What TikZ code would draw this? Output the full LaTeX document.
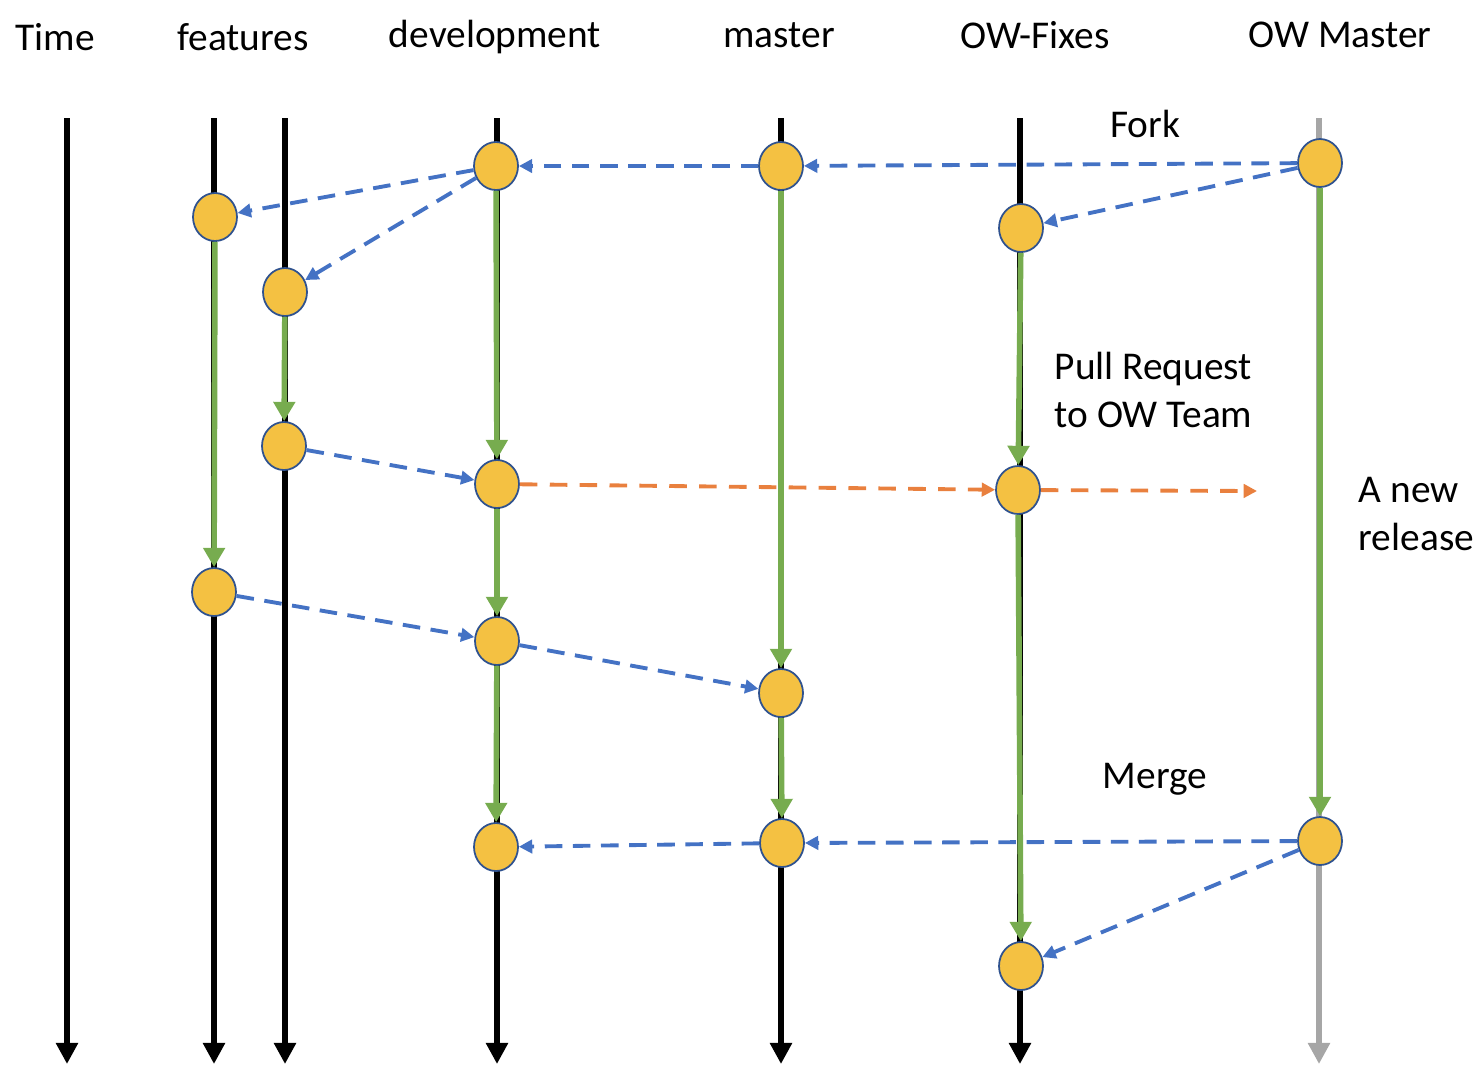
\documentclass[tikz,border=0pt]{standalone}
\usepackage{fontspec}
\setmainfont{Carlito}
\usetikzlibrary{arrows.meta,shapes.geometric,backgrounds}
\definecolor{cgreen}{HTML}{77AC4F}
\definecolor{cblue}{HTML}{4472C4}
\definecolor{corange}{HTML}{E9803E}
\definecolor{cyellow}{HTML}{F4C142}
\definecolor{cborder}{HTML}{2F528F}
\tikzset{
  commit/.style={ellipse,draw=cborder,line width=0.5pt,fill=cyellow,minimum width=0.44cm,minimum height=0.48cm,inner sep=0pt},
  timeline/.style={line width=1.7pt,-{Triangle[length=6pt,width=6pt]}},
  flow/.style={cgreen,line width=1.6pt,-{Triangle[length=5.5pt,width=6pt]}},
  copyline/.style={cblue,line width=1.1pt,dash pattern=on 5pt off 3pt,-{Triangle[length=3.8pt,width=3.8pt]}},
  prline/.style={corange,line width=1.1pt,dash pattern=on 5pt off 3.5pt,-{Triangle[length=3.8pt,width=3.8pt]}},
  label/.style={font=\fontsize{11.2pt}{13.5pt}\selectfont,inner sep=0pt}
}
\begin{document}
\begin{tikzpicture}
\useasboundingbox (0,0) rectangle (14.84,-10.84);
% branch names
\node[label] (ltime) at (0.55,-0.37) {Time};
\node[label] (lfeat) at (2.43,-0.37) {features};
\node[label] (ldev) at (4.95,-0.37) {development};
\node[label] (lmaster) at (7.79,-0.35) {master};
\node[label] (lfix) at (10.35,-0.35) {OW-Fixes};
\node[label] (lowm) at (13.40,-0.35) {OW Master};
% commits
\node[commit] (dev1) at (4.96,-1.66) {};
\node[commit] (m1) at (7.81,-1.66) {};
\node[commit] (owm1) at (13.20,-1.63) {};
\node[commit] (f1) at (2.15,-2.17) {};
\node[commit] (owf1) at (10.21,-2.28) {};
\node[commit] (f2) at (2.85,-2.92) {};
\node[commit] (f3) at (2.84,-4.46) {};
\node[commit] (dev2) at (4.97,-4.84) {};
\node[commit] (owf2) at (10.18,-4.90) {};
\node[commit] (f4) at (2.14,-5.92) {};
\node[commit] (dev3) at (4.97,-6.41) {};
\node[commit] (m2) at (7.81,-6.93) {};
\node[commit] (dev4) at (4.96,-8.47) {};
\node[commit] (m3) at (7.82,-8.43) {};
\node[commit] (owm2) at (13.20,-8.41) {};
\node[commit] (owf3) at (10.21,-9.66) {};
\coordinate (prend) at (12.57,-4.91);
% time lines
\begin{scope}[on background layer]
\foreach \x/\n in {0.67/time,2.14/feata,2.85/featb,4.97/dev,7.81/master,10.20/fix}
  \draw[timeline] (\x,-1.18) coordinate (\n top) -- (\x,-10.64) coordinate (\n bot);
\draw[timeline,gray!70] (13.19,-1.18) coordinate (owmtop) -- (13.19,-10.64) coordinate (owmbot);
\end{scope}
% green history
\draw[flow] (f1) -- (f4);
\draw[flow] (f2) -- (f3);
\draw[flow] (dev1) -- (dev2);
\draw[flow] (dev2) -- (dev3);
\draw[flow] (dev3) -- (dev4);
\draw[flow] (m1) -- (m2);
\draw[flow] (m2) -- (m3);
\draw[flow] (owf1) -- (owf2);
\draw[flow] (owf2) -- (owf3);
\draw[flow] (owm1) -- (owm2);
% blue copies
\draw[copyline] (owm1) -- (m1);
\draw[copyline] (m1) -- (dev1);
\draw[copyline] (dev1) -- (f1);
\draw[copyline] (dev1) -- (f2);
\draw[copyline] (owm1) -- (owf1);
\draw[copyline] (f3) -- (dev2);
\draw[copyline] (f4) -- (dev3);
\draw[copyline] (dev3) -- (m2);
\draw[copyline] (owm2) -- (m3);
\draw[copyline] (m3) -- (dev4);
\draw[copyline] (owm2) -- (owf3);
% orange pull request
\draw[prline] (dev2) -- (owf2);
\draw[prline] (owf2) -- (prend);
% notes
\node[label] (lfork) at (11.45,-1.24) {Fork};
\node[label,align=left,anchor=west] (lpr) at (10.54,-3.90) {Pull Request\\[0.4pt]to OW Team};
\node[label,align=left,anchor=west] (lrel) at (13.58,-5.14) {A new\\[0.4pt]release};
\node[label] (lmerge) at (11.55,-7.79) {Merge};
\end{tikzpicture}
\end{document}
